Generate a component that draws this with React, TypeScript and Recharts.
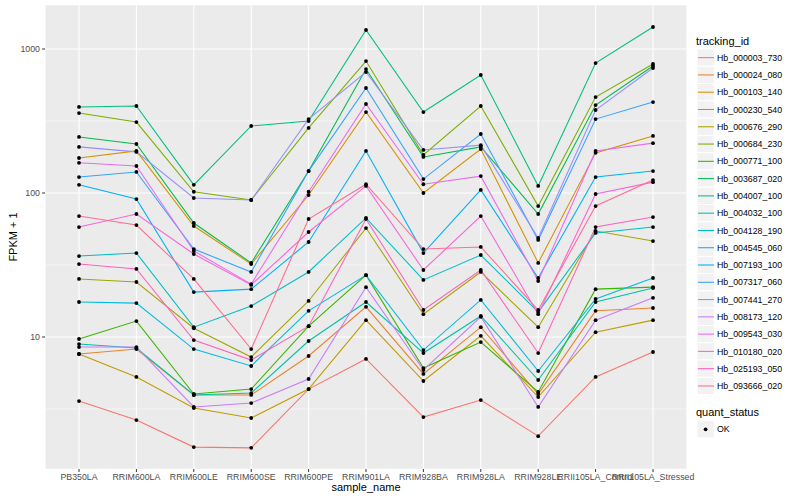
import React from 'react';
import { LineChart, Line, XAxis, YAxis, CartesianGrid } from 'recharts';

const samples = [
  'PB350LA', 'RRIM600LA', 'RRIM600LE', 'RRIM600SE', 'RRIM600PE', 'RRIM901LA',
  'RRIM928BA', 'RRIM928LA', 'RRIM928LE', 'RRII105LA_Control', 'RRII105LA_Stressed',
];

const trackingIds = [
  'Hb_000003_730', 'Hb_000024_080', 'Hb_000103_140', 'Hb_000230_540', 'Hb_000676_290',
  'Hb_000684_230', 'Hb_000771_100', 'Hb_003687_020', 'Hb_004007_100', 'Hb_004032_100',
  'Hb_004128_190', 'Hb_004545_060', 'Hb_007193_100', 'Hb_007317_060', 'Hb_007441_270',
  'Hb_008173_120', 'Hb_009543_030', 'Hb_010180_020', 'Hb_025193_050', 'Hb_093666_020',
];

// FPKM + 1, one value per sample (same order as samples)
const hb000003_730 = [3.59, 2.65, 1.72, 1.7, 4.35, 7.04, 2.78, 3.65, 2.05, 5.28, 7.87];
const hb000024_080 = [7.62, 8.25, 3.96, 3.96, 7.38, 16.2, 5.54, 11.7, 4.02, 15.2, 15.9];
const hb000103_140 = [175, 196, 59.0, 32.1, 96.8, 365, 100, 202, 32.7, 190, 249];
const hb000230_540 = [7.62, 5.28, 3.21, 2.74, 4.35, 13.1, 4.95, 10.2, 3.83, 10.8, 13.1];
const hb000676_290 = [25.3, 24.1, 11.5, 7.26, 17.8, 57.1, 14.4, 28.3, 11.7, 54.5, 46.4];
const hb000684_230 = [359, 311, 102, 89.4, 283, 825, 184, 402, 81.2, 464, 787];
const hb000771_100 = [9.69, 12.9, 4.02, 4.35, 11.9, 26.9, 6.09, 9.23, 4.15, 21.5, 22.2];
const hb003687_020 = [245, 219, 61.9, 32.7, 142, 726, 178, 209, 71.5, 408, 762];
const hb004007_100 = [396, 402, 114, 292, 316, 1355, 365, 660, 112, 799, 1422];
const hb004032_100 = [8.94, 8.39, 3.96, 4.08, 9.38, 17.5, 7.74, 14.0, 5.03, 17.5, 21.9];
const hb004128_190 = [36.5, 38.3, 11.7, 16.4, 28.3, 67.1, 24.9, 37.1, 14.9, 52.8, 58.0];
const hb004545_060 = [17.5, 17.2, 8.25, 6.29, 15.2, 26.9, 8.12, 18.1, 5.81, 18.4, 25.7];
const hb007193_100 = [114, 90.8, 20.5, 21.5, 45.7, 196, 38.3, 105, 25.7, 129, 142];
const hb007317_060 = [129, 140, 40.8, 28.3, 142, 536, 125, 257, 47.2, 326, 428];
const hb007441_270 = [209, 193, 92.3, 89.4, 326, 692, 199, 215, 48.7, 377, 738];
const hb008173_120 = [8.52, 8.52, 3.27, 3.48, 5.11, 22.2, 5.9, 13.8, 3.27, 13.1, 18.7];
const hb009543_030 = [162, 154, 39.6, 23.3, 102, 415, 115, 131, 24.5, 196, 222];
const hb010180_020 = [58.0, 71.5, 37.7, 23.0, 53.6, 112, 29.2, 69.2, 14.4, 98.4, 119];
const hb025193_050 = [32.1, 29.7, 9.53, 6.92, 11.9, 66.0, 15.4, 29.2, 7.74, 58.0, 68.1];
const hb093666_020 = [69.2, 59.9, 25.3, 8.25, 66.0, 115, 40.8, 42.2, 15.4, 81.2, 123];

const seriesValues = [
  hb000003_730, hb000024_080, hb000103_140, hb000230_540, hb000676_290,
  hb000684_230, hb000771_100, hb003687_020, hb004007_100, hb004032_100,
  hb004128_190, hb004545_060, hb007193_100, hb007317_060, hb007441_270,
  hb008173_120, hb009543_030, hb010180_020, hb025193_050, hb093666_020,
];

// ggplot hue palette, 20 levels
const palette = [
  '#F8766D', '#EA8331', '#D89000', '#C09B00', '#A3A500',
  '#7CAE00', '#39B600', '#00BB4E', '#00BF7D', '#00C1A3',
  '#00BFC4', '#00BAE0', '#00B0F6', '#35A2FF', '#9590FF',
  '#C77CFF', '#E76BF3', '#FA62DB', '#FF62BC', '#FF6C91',
];

const yTicks = [3.162, 10, 31.62, 100, 316.2, 1000];
const yMajor = [10, 100, 1000];

const data = samples.map((s, i) => {
  const row: Record<string, any> = { sample: s };
  trackingIds.forEach((id, k) => {
    row[id] = seriesValues[k][i];
  });
  return row;
});

const FONT = '"Liberation Sans", Arial, Helvetica, sans-serif';

const YTick = (props: any) => {
  const { x, y, payload } = props;
  if (!yMajor.includes(payload.value)) return <g />;
  return (
    <g>
      <line x1={x + 2} x2={x + 5} y1={y} y2={y} stroke="#333333" strokeWidth={1} />
      <text x={x} y={y} dy={3} textAnchor="end" fontSize={8.8} fill="#4D4D4D" fontFamily={FONT}>
        {payload.value}
      </text>
    </g>
  );
};

const gridLine = (p: any) => {
  const major = yMajor.includes(yTicks[p.index]);
  return (
    <line
      key={p.key}
      x1={p.x1}
      y1={p.y1}
      x2={p.x2}
      y2={p.y2}
      stroke="#FFFFFF"
      strokeWidth={major ? 1.07 : 0.53}
    />
  );
};

const Legend = () => {
  const rowH = 17.28;
  const top = 49;
  return (
    <g fontFamily={FONT}>
      <text x={696} y={44.5} fontSize={11} fill="#000">tracking_id</text>
      {trackingIds.map((id, i) => {
        const y0 = top + i * rowH;
        return (
          <g key={id}>
            <rect x={697} y={y0} width={rowH} height={rowH} fill="#F2F2F2" stroke="#FFFFFF" strokeWidth={1} />
            <line x1={698} x2={714} y1={y0 + rowH / 2} y2={y0 + rowH / 2} stroke={palette[i]} strokeWidth={1.07} />
            <text x={717} y={y0 + rowH / 2 + 3.1} fontSize={8.8} fill="#000">{id}</text>
          </g>
        );
      })}
      <text x={696} y={416} fontSize={11} fill="#000">quant_status</text>
      <rect x={697} y={420.6} width={rowH} height={rowH} fill="#F2F2F2" stroke="#FFFFFF" strokeWidth={1} />
      <circle cx={705.6} cy={429.3} r={1.9} fill="#000" />
      <text x={717} y={432.4} fontSize={8.8} fill="#000">OK</text>
    </g>
  );
};

export default function App() {
  return (
    <div style={{ position: 'absolute', left: 0, top: 0, width: 800, height: 500, background: '#fff' }}>
      <LineChart width={800} height={500} data={data} margin={{ top: 5, right: 113, bottom: 0, left: 0 }}>
        <CartesianGrid fill="#EBEBEB" stroke="#FFFFFF" strokeWidth={1.07} horizontal={gridLine} />
        <XAxis
          dataKey="sample"
          height={31}
          padding={{ left: 34, right: 34 }}
          interval={0}
          tickSize={3}
          tickMargin={2}
          axisLine={false}
          tickLine={{ stroke: '#333333' }}
          tick={{ fontSize: 8.8, fill: '#4D4D4D', fontFamily: FONT }}
        />
        <YAxis
          type="number"
          scale="log"
          domain={[1.212, 2021]}
          allowDataOverflow
          ticks={yTicks}
          interval={0}
          width={45}
          tickSize={3}
          tickMargin={2}
          axisLine={false}
          tickLine={false}
          tick={YTick}
        />
        {trackingIds.map((id, i) => (
          <Line
            key={id}
            dataKey={id}
            stroke={palette[i]}
            strokeWidth={1.07}
            dot={false}
            activeDot={false}
            isAnimationActive={false}
          />
        ))}
        {trackingIds.map((id) => (
          <Line
            key={id + '-pt'}
            dataKey={id}
            stroke="none"
            dot={{ r: 1.9, fill: '#000', stroke: 'none' }}
            activeDot={false}
            legendType="none"
            isAnimationActive={false}
          />
        ))}
      </LineChart>
      <svg width={800} height={500} style={{ position: 'absolute', left: 0, top: 0, pointerEvents: 'none' }}>
        <text x={13} y={237} transform="rotate(-90 13 237)" dy={4} textAnchor="middle" fontSize={11} fontFamily={FONT} fill="#000">
          FPKM + 1
        </text>
        <text x={366} y={491} textAnchor="middle" fontSize={11} fontFamily={FONT} fill="#000">
          sample_name
        </text>
        <Legend />
      </svg>
    </div>
  );
}
